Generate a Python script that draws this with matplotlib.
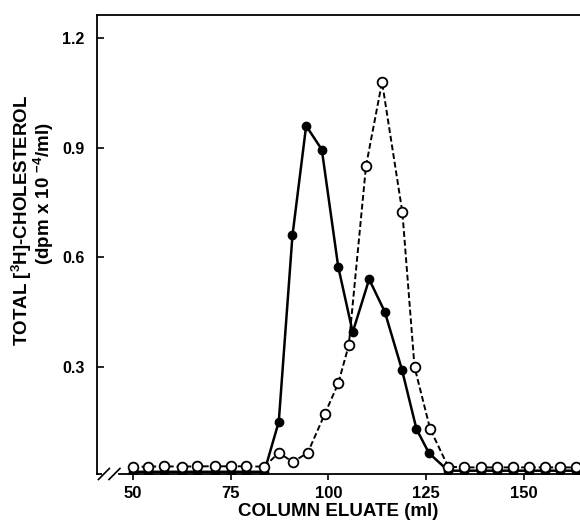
import numpy as np
import matplotlib.pyplot as plt

plt.rcParams['font.family'] = ['Liberation Sans', 'DejaVu Sans']
plt.rcParams['font.weight'] = 'bold'
plt.rcParams['mathtext.fontset'] = 'custom'
plt.rcParams['mathtext.rm'] = 'Liberation Sans:bold'
plt.rcParams['mathtext.bf'] = 'Liberation Sans:bold'
plt.rcParams['mathtext.default'] = 'bf'

# filled circles (solid line)
x_filled = [50, 54, 58, 62.5, 66.5, 71, 75, 79, 83.6, 87.3, 90.8, 94.3, 98.3,
            102.5, 106.2, 110.4, 114.4, 118.8, 122.5, 125.7, 130.6, 134.7,
            138.9, 143, 147.1, 151.3, 155.4, 159.2, 163.3]
y_filled = [0.013, 0.013, 0.013, 0.013, 0.013, 0.013, 0.013, 0.013, 0.013,
            0.15, 0.66, 0.96, 0.895, 0.574, 0.395, 0.54, 0.451, 0.292, 0.13,
            0.064, 0.016, 0.016, 0.016, 0.016, 0.016, 0.016, 0.016, 0.016, 0.016]

# open circles (dashed line)
x_open = [50, 54, 58, 62.5, 66.5, 71, 75, 79, 83.6, 87.3, 90.9, 94.7, 99.1,
          102.5, 105.2, 109.6, 113.7, 118.9, 122, 126, 130.6, 134.7, 138.9,
          143, 147.1, 151.3, 155.4, 159.2, 163.3]
y_open = [0.027, 0.027, 0.028, 0.027, 0.028, 0.028, 0.028, 0.028, 0.027,
          0.065, 0.04, 0.065, 0.172, 0.255, 0.36, 0.85, 1.08, 0.723, 0.30,
          0.13, 0.027, 0.025, 0.025, 0.025, 0.025, 0.025, 0.025, 0.025, 0.025]

xticks = [50, 75, 100, 125, 150]
yticks = [0.3, 0.6, 0.9, 1.2]

fig = plt.figure(figsize=(5.8, 5.22), dpi=100)
ax = fig.add_axes([0.167, 0.092, 0.833, 0.879])

ax.plot(x_open, y_open, color='black', lw=1.4, ls=(0, (3, 1.5)),
        marker='o', ms=7, mfc='white', mec='black', mew=1.3, zorder=3)
ax.plot(x_filled, y_filled, color='black', lw=1.8, ls='-',
        marker='o', ms=6, mfc='black', mec='black', zorder=2)

ax.set_xlim(40.8, 164.3)
ax.set_ylim(0.007, 1.263)
ax.set_xticks(xticks)
ax.set_xticklabels([str(t) for t in xticks])
ax.set_yticks(yticks)
ax.set_yticklabels(['0.3', '0.6', '0.9', '1.2'])
ax.tick_params(axis='x', direction='out', length=4, width=1.2, labelsize=12, pad=5)
ax.tick_params(axis='y', direction='in', length=5, width=1.2, labelsize=11.5, pad=9)
for lab in ax.get_xticklabels() + ax.get_yticklabels():
    lab.set_fontweight('bold')

ax.spines['right'].set_visible(False)
for s in ['left', 'bottom', 'top']:
    ax.spines[s].set_linewidth(1.3)

# axis break on x axis
trans = ax.get_xaxis_transform()
ax.plot([42.6, 45.6], [0.0, 0.0], color='white', lw=3, transform=trans,
        clip_on=False, zorder=5)
for x0 in [42.6, 45.3]:
    ax.plot([x0 - 1.4, x0 + 1.4], [-0.012, 0.012], color='black', lw=1.2,
            transform=trans, clip_on=False, zorder=6)

ax.set_xlabel('COLUMN ELUATE (ml)', fontsize=13.5, fontweight='bold', labelpad=1)
fig.text(22 / 580, 1 - 220 / 522, 'TOTAL [$^{3}$H]-CHOLESTEROL',
         rotation=90, ha='center', va='center', fontsize=13.5, fontweight='bold')
fig.text(44 / 580, 1 - 194 / 522, '(dpm x 10 $^{-4}$/ml)',
         rotation=90, ha='center', va='center', fontsize=13.5, fontweight='bold')

fig.savefig('out.png', dpi=100)
